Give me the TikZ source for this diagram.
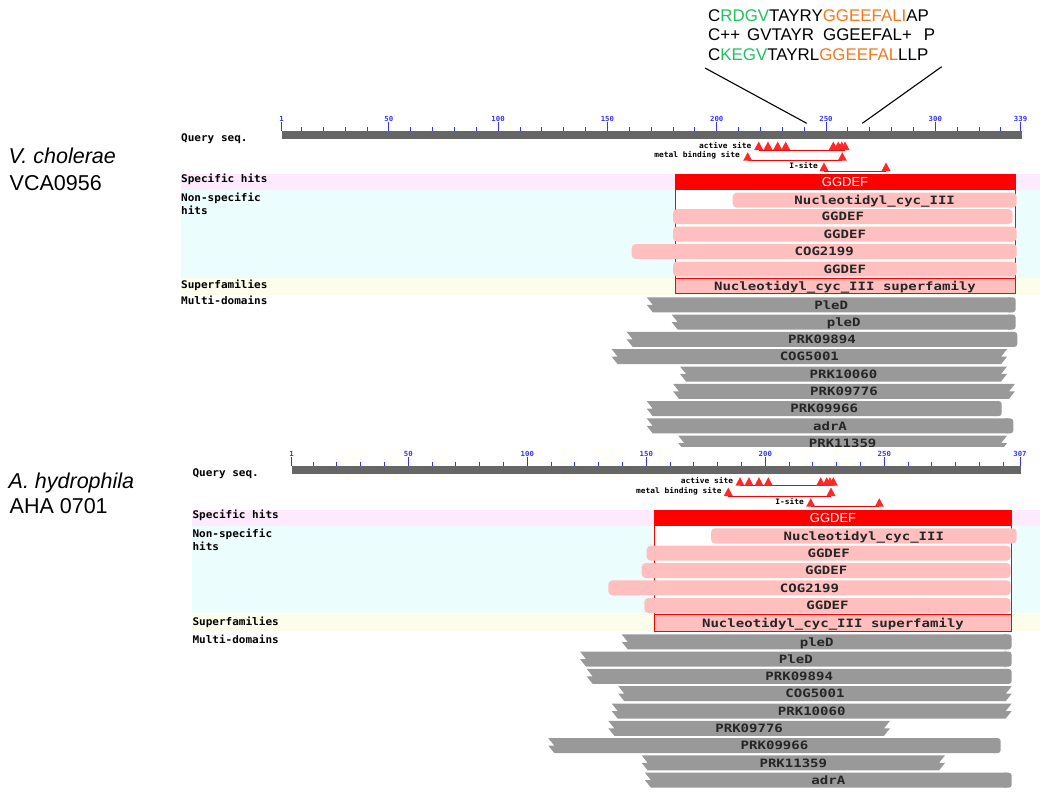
\documentclass[tikz,border=0pt]{standalone}
\usepackage{fontspec}
\setmainfont{Liberation Sans}
\newfontfamily\ncbimono[FakeStretch=1.22]{DejaVu Sans Mono}
\newfontfamily\ncbilab[FakeStretch=1.05]{DejaVu Sans Mono}
\definecolor{bandpink}{RGB}{253,235,253}
\definecolor{bandcyan}{RGB}{235,253,253}
\definecolor{bandyellow}{RGB}{253,253,235}
\definecolor{hitpink}{RGB}{255,191,191}
\definecolor{mdgray}{RGB}{153,153,153}
\definecolor{qgray}{RGB}{102,102,102}
\definecolor{rulerblue}{RGB}{51,51,255}
\definecolor{sitered}{RGB}{255,40,40}
\definecolor{seqgreen}{RGB}{30,195,95}
\definecolor{seqorange}{RGB}{245,120,30}
\tikzset{
 barlab/.style={font=\ncbimono\bfseries\fontsize{11.5}{12}\selectfont, inner sep=0pt, text=black!85, anchor=base},
 tracklab/.style={font=\ncbilab\bfseries\fontsize{10.5}{11}\selectfont, inner sep=0pt, anchor=base west},
 annlab/.style={font=\ncbilab\bfseries\fontsize{7.5}{8}\selectfont, inner sep=0pt, anchor=east},
 rulerlab/.style={font=\ncbilab\bfseries\fontsize{7}{7}\selectfont, inner sep=0pt, text=rulerblue, anchor=base},
 tickline/.style={draw=rulerblue, line width=0.9pt},
 siteline/.style={draw=red, line width=0.8pt},
 sitetri/.style={fill=sitered},
 seqtext/.style={font=\fontsize{16.9}{18}\selectfont, inner sep=0pt, anchor=base west},
 species/.style={font=\fontsize{21.5}{24}\selectfont, inner sep=0pt, anchor=base west},
 connector/.style={draw=black, line width=1.1pt},
 spechit/.style={fill=red},
 boxline/.style={draw=red, line width=0.8pt},
 whitelab/.style={font=\fontsize{13}{14}\selectfont, text=white, inner sep=0pt, anchor=base},
}
% non-specific hit: x1 x2 y1 y2 name label
\newcommand\nsbar[6]{%
 \fill[hitpink,rounded corners=4pt] (#1,#3) rectangle (#2,#4);
 \node[barlab] (#5) at ({(#1+#2)/2},{(#3+#4)/2+4.2}) {#6};}
% multi-domain, left truncated, right rounded
\newcommand\mdR[6]{%
 \fill[mdgray,rounded corners=3pt] ({#2-10},#3) rectangle (#2,#4);
 \fill[mdgray] ({#2-5},#3) -- (#1,#3) -- ({#1+6},{(#3+#4)/2}) -- (#1,{(#3+#4)/2}) -- ({#1+6},#4) -- ({#2-5},#4) -- cycle;
 \node[barlab] (#5) at ({(#1+#2)/2},{(#3+#4)/2+4.2}) {#6};}
% multi-domain, both ends truncated
\newcommand\mdN[6]{%
 \fill[mdgray] (#2,#3) -- (#1,#3) -- ({#1+6},{(#3+#4)/2}) -- (#1,{(#3+#4)/2}) -- ({#1+6},#4) -- ({#2-6},#4) -- (#2,{(#3+#4)/2}) -- ({#2-6},{(#3+#4)/2}) -- cycle;
 \node[barlab] (#5) at ({(#1+#2)/2},{(#3+#4)/2+4.2}) {#6};}
\newcommand\sitetriangle[2]{\fill[sitetri] ({#1-4.5},#2) -- (#1,{#2-8.5}) -- ({#1+4.5},#2) -- cycle;}
\begin{document}
\begin{tikzpicture}[x=1pt,y=-1pt]
\useasboundingbox[fill=white] (0,0) rectangle (1050,801);

% ---------- alignment text ----------
\node[seqtext] (seq1) at (708,21.7) {C\textcolor{seqgreen}{RDGV}TAYRY\textcolor{seqorange}{GGEEFALI}AP};
\node[seqtext] (seq2) at (708,40) {C++\hspace{7pt}GVTAYR\hspace{9pt}GGEEFAL+\hspace{12pt}P};
\node[seqtext] (seq3) at (708,60) {C\textcolor{seqgreen}{KEGV}TAYRL\textcolor{seqorange}{GGEEFAL}LLP};
\coordinate (la) at (705,68);
\coordinate (lb) at (806.7,123.3);
\coordinate (lc) at (941.7,66.7);
\coordinate (ld) at (862.3,123.3);
\draw[connector] (la) -- (lb);
\draw[connector] (lc) -- (ld);

% ---------- species ----------
\node[species] (vc1) at (8.5,163.3) {\itshape V. cholerae};
\node[species] (vc2) at (9.5,190) {VCA0956};
\node[species] (ah1) at (8.5,488.3) {\itshape A. hydrophila};
\node[species] (ah2) at (9.5,513.3) {AHA 0701};

% =========== TOP PANEL ===========
\fill[bandpink] (181,174) rectangle (1040,189.5);
\fill[bandcyan] (181,190.3) rectangle (1040,277.5);
\fill[bandyellow] (181,278.3) rectangle (1040,294.5);
\node[tracklab] (tq) at (181,141) {Query seq.};
\node[tracklab] (ts) at (181,182.6) {Specific hits};
\node[tracklab] (tn) at (181,201.6) {Non-specific};
\node[tracklab] (tn2) at (181,214.3) {hits};
\node[tracklab] (tf) at (181,288.6) {Superfamilies};
\node[tracklab] (tm) at (181,304.6) {Multi-domains};
% ruler
\fill[qgray] (281.7,131) rectangle (1022,139);
\foreach \r in {10,20,...,330}{\draw[tickline] ({281.7+(\r-1)*2.186},126.7) -- ({281.7+(\r-1)*2.186},131);}
\foreach \r in {1,50,100,150,200,250,300,339}{
 \draw[tickline] ({281.7+(\r-1)*2.186},121.7) -- ({281.7+(\r-1)*2.186},131);
 \node[rulerlab] (ta\r) at ({281.7+(\r-1)*2.186},121.3) {\r};}
% sites
\draw[siteline] (758.7,150) -- (845,150);
\foreach \x in {758.7,768,777.7,785.7,833.3,838.3,841.7,845}{\sitetriangle{\x}{150}}
\node[annlab] (aact) at (751.5,145) {active site};
\draw[siteline] (747.7,160.7) -- (842.3,160.7);
\foreach \x in {747.7,842.3}{\sitetriangle{\x}{160.7}}
\node[annlab] (amet) at (740,155.7) {metal binding site};
\draw[siteline] (824,171) -- (886,171);
\foreach \x in {824,886}{\sitetriangle{\x}{171}}
\node[annlab] (aisi) at (818,166) {I-site};
% specific / superfamily box
\filldraw[fill=white,boxline] (675,174) rectangle (1015,293.5);
\fill[spechit] (675,174) rectangle (1015,189.5);
\node[whitelab] (sg) at (845,186.2) {GGDEF};
\nsbar{732.7}{1016.7}{192.7}{207.5}{n1}{Nucleotidyl\_cyc\_III}
\nsbar{673}{1012.7}{209.2}{224.2}{n2}{GGDEF}
\nsbar{673}{1016.7}{226.6}{241.6}{n3}{GGDEF}
\nsbar{631.7}{1016.7}{244}{259}{n4}{COG2199}
\nsbar{673}{1016.7}{261.5}{276.5}{n5}{GGDEF}
\filldraw[fill=hitpink,boxline] (675,278.3) rectangle (1015,293.5);
\node[barlab] (sf) at (845,290.1) {Nucleotidyl\_cyc\_III superfamily};
% multi-domains
\mdR{646.7}{1015.7}{297.3}{312.3}{m1}{PleD}
\mdR{671.7}{1015.7}{314.6}{329.6}{m2}{pleD}
\mdR{626.7}{1017.3}{331.9}{346.9}{m3}{PRK09894}
\mdN{611.7}{1007}{349.2}{364.2}{m4}{COG5001}
\mdN{680}{1007}{366.5}{381.5}{m5}{PRK10060}
\mdN{673}{1015}{383.8}{398.8}{m6}{PRK09776}
\mdR{646.7}{1001.7}{401.1}{416.1}{m7}{PRK09966}
\mdR{646.7}{1013.3}{418.4}{433.4}{m8}{adrA}
\begin{scope}
\clip (0,0) rectangle (1050,446.8);
\mdN{678.3}{1007}{435.7}{450.7}{m9}{PRK11359}
\end{scope}

% =========== BOTTOM PANEL ===========
\fill[bandpink] (192.3,510) rectangle (1040,525.5);
\fill[bandcyan] (192.3,526.3) rectangle (1040,613.3);
\fill[bandyellow] (192.3,614.1) rectangle (1040,631);
\node[tracklab] (bq) at (192.3,476) {Query seq.};
\node[tracklab] (bs) at (192.3,518.6) {Specific hits};
\node[tracklab] (bn) at (192.3,537) {Non-specific};
\node[tracklab] (bn2) at (192.3,550.3) {hits};
\node[tracklab] (bf) at (192.3,625) {Superfamilies};
\node[tracklab] (bm) at (192.3,643.6) {Multi-domains};
% ruler
\fill[qgray] (291.7,466) rectangle (1021,474.3);
\foreach \r in {10,20,...,300}{\draw[tickline] ({291.7+(\r-1)*2.38},461.7) -- ({291.7+(\r-1)*2.38},466);}
\foreach \r in {1,50,100,150,200,250,307}{
 \draw[tickline] ({291.7+(\r-1)*2.38},456.7) -- ({291.7+(\r-1)*2.38},466);
 \node[rulerlab] (ba\r) at ({291.7+(\r-1)*2.38},456.3) {\r};}
% sites
\draw[siteline] (740,485.7) -- (833.3,485.7);
\foreach \x in {740,749,759,768.3,820.7,826.7,830,833.3}{\sitetriangle{\x}{485.7}}
\node[annlab] (bact) at (733.3,480.7) {active site};
\draw[siteline] (728.3,496) -- (831,496);
\foreach \x in {728.3,831}{\sitetriangle{\x}{496}}
\node[annlab] (bmet) at (721.7,491) {metal binding site};
\draw[siteline] (810.7,506.7) -- (879.3,506.7);
\foreach \x in {810.7,879.3}{\sitetriangle{\x}{506.7}}
\node[annlab] (bisi) at (804,501.7) {I-site};
% specific / superfamily box
\filldraw[fill=white,boxline] (654.3,510) rectangle (1011.7,631.7);
\fill[spechit] (654.3,510) rectangle (1011.7,525.5);
\node[whitelab] (bg) at (833,522) {GGDEF};
\nsbar{711}{1016.7}{528.3}{543.5}{p1}{Nucleotidyl\_cyc\_III}
\nsbar{646.7}{1010.7}{545.7}{560.7}{p2}{GGDEF}
\nsbar{641.7}{1010.7}{563}{578}{p3}{GGDEF}
\nsbar{608.3}{1010.7}{580.3}{595.3}{p4}{COG2199}
\nsbar{644.3}{1010.7}{598}{613}{p5}{GGDEF}
\filldraw[fill=hitpink,boxline] (654.3,614.8) rectangle (1011.7,631.7);
\node[barlab] (bsf) at (833,627.4) {Nucleotidyl\_cyc\_III superfamily};
% multi-domains
\mdR{621.7}{1011.7}{634.3}{649.3}{q1}{pleD}
\mdR{580}{1011.7}{651.6}{666.6}{q2}{PleD}
\mdR{586.7}{1011.7}{668.9}{683.9}{q3}{PRK09894}
\mdN{618.3}{1011.7}{686.2}{701.2}{q4}{COG5001}
\mdN{611.7}{1011.7}{703.5}{718.5}{q5}{PRK10060}
\mdN{608.3}{890}{720.8}{735.8}{q6}{PRK09776}
\mdR{548.3}{1000.7}{738.1}{753.1}{q7}{PRK09966}
\mdN{641.7}{945}{755.4}{770.4}{q8}{PRK11359}
\mdR{645}{1011.7}{772.7}{787.7}{q9}{adrA}
\end{tikzpicture}
\end{document}
